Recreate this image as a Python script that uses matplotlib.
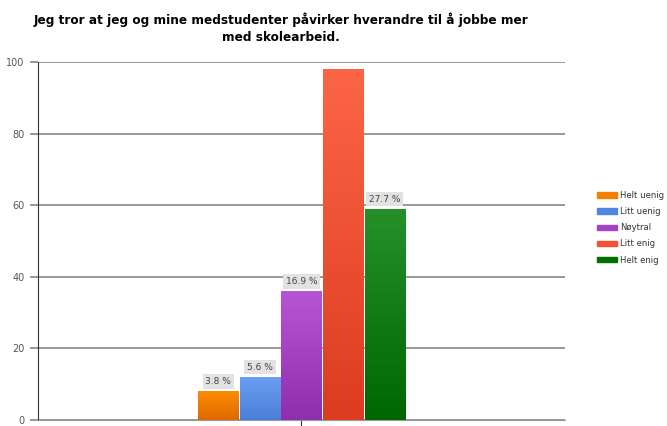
import numpy as np
import matplotlib
matplotlib.use("Agg")
import matplotlib.pyplot as plt
from matplotlib.colors import LinearSegmentedColormap
from matplotlib.patches import Patch

title = "Jeg tror at jeg og mine medstudenter påvirker hverandre til å jobbe mer\nmed skolearbeid."
categories = ["Helt uenig", "Litt uenig", "Nøytral", "Litt enig", "Helt enig"]
counts = [8, 12, 36, 98, 59]
labels = ["3.8 %", "5.6 %", "16.9 %", "", "27.7 %"]
top_colors = ["#fb8c00", "#6a9ef0", "#b654d6", "#fb6545", "#25902a"]
bottom_colors = ["#e06800", "#4c7fd8", "#8e2fae", "#dc3c20", "#006600"]
legend_colors = ["#f48200", "#4f86e0", "#a540c8", "#ef5533", "#007000"]

fig = plt.figure(figsize=(6.67, 4.26), dpi=100)
ax = fig.add_axes([0.057, 0.014, 0.79, 0.84])

width = 0.079
offsets = (np.arange(len(counts)) - 2) * width
bars = ax.bar(offsets, counts, width=width * 0.97, color=top_colors, zorder=2)

# vertical gradient inside each bar
for b, c1, c2 in zip(bars, top_colors, bottom_colors):
    cmap = LinearSegmentedColormap.from_list("g", [c2, c1])
    x0, y0 = b.get_x(), b.get_y()
    im = ax.imshow(np.linspace(0, 1, 64).reshape(-1, 1), cmap=cmap, origin="lower",
                   extent=[x0, x0 + b.get_width(), y0, y0 + b.get_height()],
                   aspect="auto", zorder=3)
    im.set_clip_path(b)

for b, lab in zip(bars, labels):
    if lab:
        ax.text(b.get_x() + b.get_width() / 2, b.get_height() + 1.5, lab,
                ha="center", va="bottom", fontsize=6.5, color="#444444", zorder=4,
                bbox=dict(boxstyle="square,pad=0.3", fc="#e2e2e2", ec="none"))

ax.set_xlim(-0.5, 0.5)
ax.set_ylim(0, 100)
ax.set_yticks([0, 20, 40, 60, 80, 100])
ax.set_xticks([0])
ax.set_xticklabels([""])
ax.yaxis.grid(True, color="#909090", linewidth=1.3, zorder=0)
ax.set_axisbelow(True)
ax.tick_params(axis="y", colors="#909090", labelcolor="#555555", labelsize=7, length=6, width=1.3)
ax.tick_params(axis="x", length=4, color="#333333")
ax.spines["top"].set_visible(False)
ax.spines["right"].set_visible(False)
ax.spines["left"].set_color("#333333")
ax.spines["bottom"].set_color("#999999")
fig.text(0.421, 0.97, title, ha="center", va="top", fontsize=8.7,
         fontweight="bold", linespacing=1.35)

handles = [Patch(color=c, label=n) for c, n in zip(legend_colors, categories)]
fig.legend(handles=handles, loc="upper left", bbox_to_anchor=(0.893, 0.556), frameon=False,
           fontsize=6.1, handlelength=2.3, handleheight=0.6, labelspacing=0.85,
           handletextpad=0.4, labelcolor="#333333", borderaxespad=0, borderpad=0.2)

fig.savefig("out.png", dpi=100)
